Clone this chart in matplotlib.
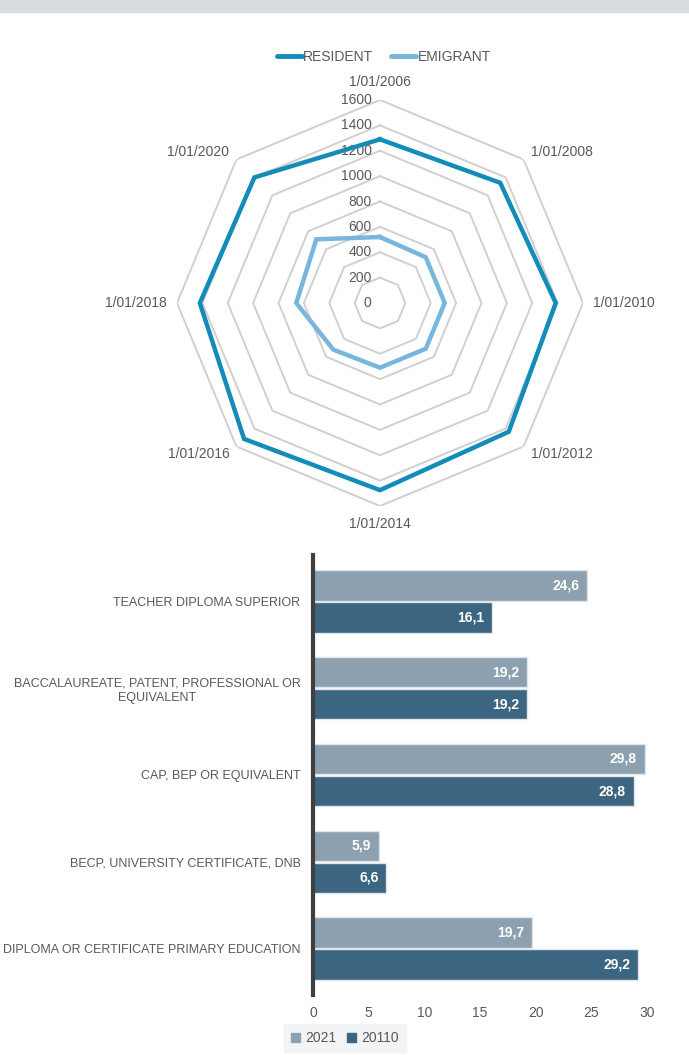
import numpy as np
import matplotlib.pyplot as plt
from matplotlib.lines import Line2D
from matplotlib.patches import Patch

plt.rcParams['font.family'] = ['Liberation Sans', 'DejaVu Sans']

# radar data
dates = ["1/01/2006", "1/01/2008", "1/01/2010", "1/01/2012",
         "1/01/2014", "1/01/2016", "1/01/2018", "1/01/2020"]
resident = [1290, 1340, 1385, 1435, 1475, 1515, 1420, 1400]
emigrant = [520, 510, 510, 510, 510, 520, 660, 710]
rings = [200, 400, 600, 800, 1000, 1200, 1400, 1600]
ring_labels = [0, 200, 400, 600, 800, 1000, 1200, 1400, 1600]

# bar data
levels = ["TEACHER DIPLOMA SUPERIOR",
          "BACCALAUREATE, PATENT, PROFESSIONAL OR\nEQUIVALENT",
          "CAP, BEP OR EQUIVALENT",
          "BECP, UNIVERSITY CERTIFICATE, DNB",
          "DIPLOMA OR CERTIFICATE PRIMARY EDUCATION"]
y2021 = [24.6, 19.2, 29.8, 5.9, 19.7]
y2011 = [16.1, 19.2, 28.8, 6.6, 29.2]

txt = "#595959"
c_res = "#138cba"
c_emi = "#79b6dd"
c_21 = "#8ca0af"
c_11 = "#3b6580"

fig = plt.figure(figsize=(6.89, 10.55), dpi=100)
fig.patches.append(plt.Rectangle((0, 1 - 12 / 1055), 1, 12 / 1055,
                                 transform=fig.transFigure, color="#d9dcde"))

# ---- radar ----
ax = fig.add_axes([177 / 689, 549 / 1055, 406 / 689, 406 / 1055], projection="polar")
ax.set_theta_offset(np.pi / 2)
ax.set_theta_direction(-1)
ax.set_ylim(0, 1600)
ax.grid(False)
ax.spines["polar"].set_visible(False)
ax.set_xticks([])
ax.set_yticks([])

theta = np.linspace(0, 2 * np.pi, len(dates), endpoint=False)
closed = np.append(theta, theta[0])
for r in rings:
    ax.plot(closed, [r] * len(closed), color="#d0d0d0", lw=1.4, zorder=1)

ax.plot(closed, resident + resident[:1], color=c_res, lw=3.2, zorder=3,
        solid_joinstyle="miter")
ax.plot(closed, emigrant + emigrant[:1], color=c_emi, lw=3.2, zorder=3,
        solid_joinstyle="miter")

for v in ring_labels:
    ax.annotate(str(v), xy=(0, v), xytext=(-6, 0), textcoords="offset points",
                ha="right", va="center", fontsize=10, color=txt, zorder=2)

for t, lab in zip(theta, dates):
    s = np.sin(t)
    ha = "center" if abs(s) < 0.1 else ("left" if s > 0 else "right")
    rr = 1745 if abs(s) < 0.1 else 1680
    ax.text(t, rr, lab, ha=ha, va="center", fontsize=10, color=txt)

handles = [Line2D([], [], color=c_res, lw=3.5, solid_capstyle="round"),
           Line2D([], [], color=c_emi, lw=3.5, solid_capstyle="round")]
fig.legend(handles, ["RESIDENT", "EMIGRANT"], loc="center",
           bbox_to_anchor=(384 / 689, 1 - 57 / 1055), ncol=2, frameon=False,
           fontsize=10, labelcolor=txt, handlelength=1.8, handletextpad=0.1,
           columnspacing=1.3)

# ---- bars ----
bx = fig.add_axes([313 / 689, 60 / 1055, 334 / 689, 440 / 1055])
pos = np.arange(len(levels))
h = 0.35
b1 = bx.barh(pos - 0.185, y2021, height=h, color=c_21, edgecolor="#dfe5ea", lw=1)
b2 = bx.barh(pos + 0.185, y2011, height=h, color=c_11, edgecolor="#dfe5ea", lw=1)
for bars, vals in ((b1, y2021), (b2, y2011)):
    for b, v in zip(bars, vals):
        bx.text(v - 0.7, b.get_y() + b.get_height() / 2, f"{v:.1f}".replace(".", ","),
                ha="right", va="center", color="white", fontsize=10,
                fontweight="bold")

bx.set_xlim(0, 30)
bx.set_ylim(4.535, -0.535)
bx.set_xticks(range(0, 31, 5))
bx.set_yticks(pos)
bx.set_yticklabels(levels, fontsize=9.0, color=txt, multialignment="center")
bx.tick_params(axis="y", length=0, pad=9)
bx.tick_params(axis="x", length=0, labelsize=10, labelcolor=txt, pad=8)
for s in ("top", "right", "bottom"):
    bx.spines[s].set_visible(False)
bx.spines["left"].set_color("#404040")
bx.spines["left"].set_linewidth(3)

leg = fig.legend([Patch(color=c_21), Patch(color=c_11)], ["2021", "20110"],
                 loc="center", bbox_to_anchor=(345 / 689, 1 - 1038 / 1055), ncol=2,
                 frameon=True, fontsize=10, labelcolor=txt, handlelength=0.6,
                 handleheight=0.6, handletextpad=0.4, columnspacing=0.8,
                 fancybox=False, borderpad=0.5)
leg.get_frame().set_facecolor("#f1f2f3")
leg.get_frame().set_edgecolor("#f1f2f3")

fig.savefig("out.png", dpi=100)
